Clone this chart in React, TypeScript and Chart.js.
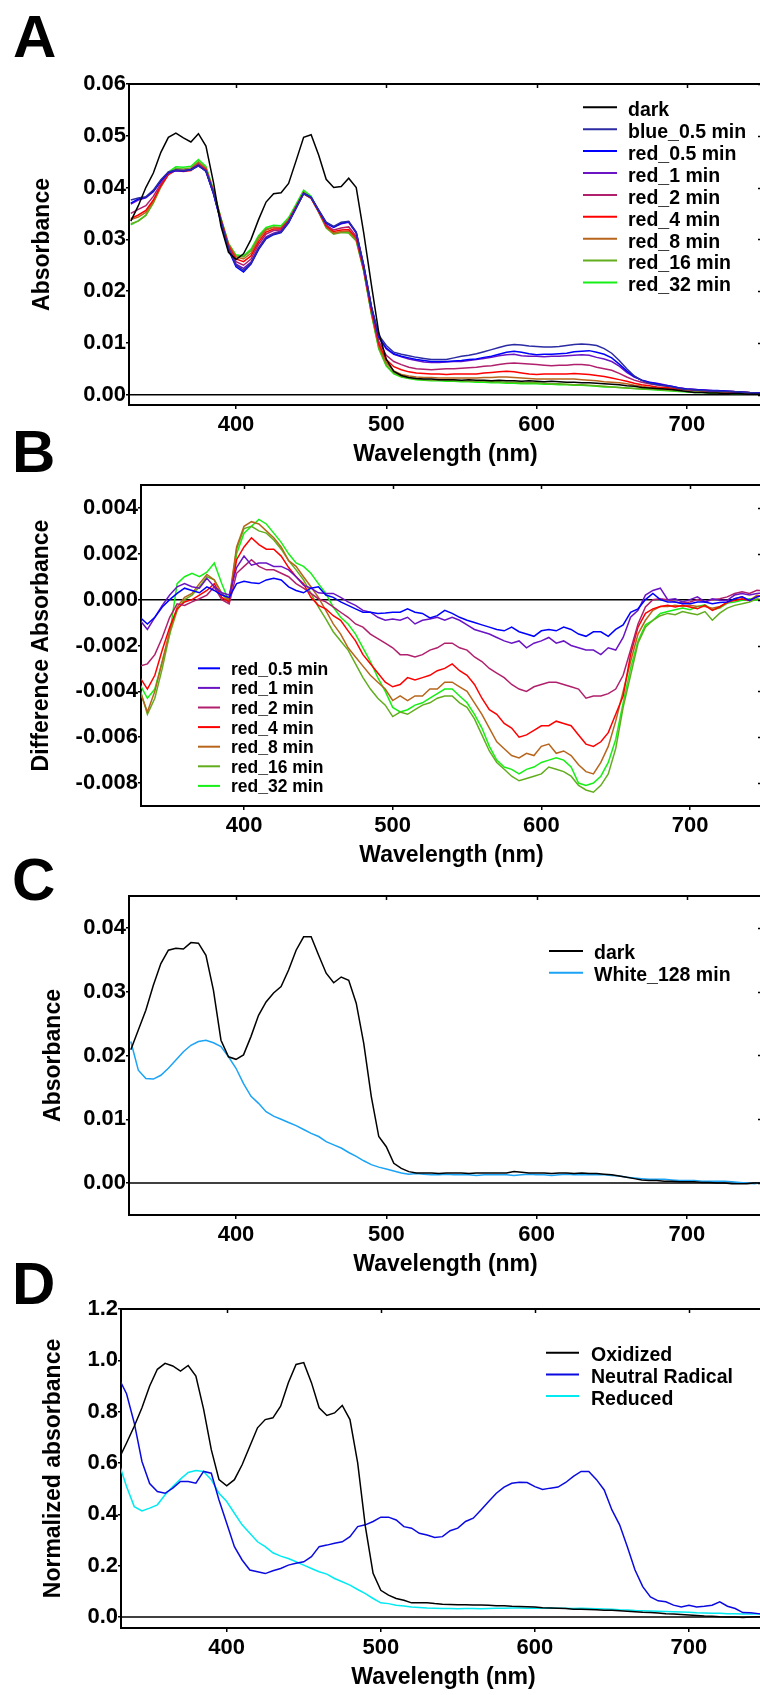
import React, { useEffect, useRef } from "react";
import { Chart, registerables } from "chart.js";

Chart.register(...registerables);
Chart.defaults.font.family = "'Liberation Sans', Arial, Helvetica, sans-serif";

// ---------- wavelength grid (nm) ----------
const WAVELENGTH = [
  330, 335, 340, 345, 350, 355, 360, 365, 370, 375,
  380, 385, 390, 395, 400, 405, 410, 415, 420, 425,
  430, 435, 440, 445, 450, 455, 460, 465, 470, 475,
  480, 485, 490, 495, 500, 505, 510, 515, 520, 525,
  530, 535, 540, 545, 550, 555, 560, 565, 570, 575,
  580, 585, 590, 595, 600, 605, 610, 615, 620, 625,
  630, 635, 640, 645, 650, 655, 660, 665, 670, 675,
  680, 685, 690, 695, 700, 705, 710, 715, 720, 725,
  730, 735, 740, 745, 750,
];

// ---------- tick values ----------
const X_TICKS = [400, 500, 600, 700];
const A_Y_TICKS = [0, 0.01, 0.02, 0.03, 0.04, 0.05, 0.06];
const B_Y_TICKS = [-0.008, -0.006, -0.004, -0.002, 0, 0.002, 0.004];
const C_Y_TICKS = [0, 0.01, 0.02, 0.03, 0.04];
const D_Y_TICKS = [0, 0.2, 0.4, 0.6, 0.8, 1.0, 1.2];

// ---------- Panel A: absorbance ----------
const A_dark = [
  .0335, .0365, .0400, .0428, .0468, .0497, .0505, .0496, .0488, .0504,
  .0480, .0410, .0325, .0275, .0261, .0272, .0300, .0338, .0372, .0388,
  .0390, .0408, .0452, .0497, .0502, .0463, .0416, .0400, .0402, .0418,
  .0400, .0312, .0214, .0120, .0068, .0045, .0037, .0033, .0031, .0030,
  .0030, .0029, .0029, .0029, .0028, .0029, .0028, .0028, .0027, .0028,
  .0027, .0027, .0026, .0027, .0026, .0025, .0026, .0025, .0024, .0024,
  .0023, .0023, .0022, .0021, .0020, .0019, .0017, .0016, .0014, .0013,
  .0012, .0011, .0010, .0008, .0006, .0004, .0004, .0003, .0003, .0002,
  .0002, .0002, .0001, .0001, .0001,
];
const A_blue05 = [
  .0376, .0380, .0382, .0395, .0415, .0430, .0434, .0433, .0434, .0442,
  .0432, .0390, .0335, .0282, .0250, .0240, .0254, .0282, .0303, .0310,
  .0314, .0333, .0360, .0388, .0380, .0357, .0333, .0325, .0333, .0335,
  .0314, .0250, .0172, .0115, .0095, .0082, .0078, .0075, .0072, .0070,
  .0068, .0068, .0068, .0071, .0074, .0076, .0079, .0083, .0087, .0091,
  .0095, .0097, .0096, .0094, .0093, .0092, .0092, .0093, .0095, .0097,
  .0098, .0097, .0095, .0089, .0080, .0066, .0050, .0036, .0027, .0022,
  .0019, .0017, .0015, .0012, .0010, .0009, .0008, .0007, .0007, .0006,
  .0006, .0005, .0004, .0003, .0002,
];
const A_red05 = [
  .0370, .0378, .0381, .0393, .0413, .0429, .0433, .0432, .0435, .0443,
  .0431, .0388, .0333, .0280, .0247, .0237, .0252, .0280, .0301, .0309,
  .0313, .0332, .0360, .0389, .0381, .0356, .0331, .0323, .0331, .0334,
  .0313, .0249, .0171, .0112, .0090, .0079, .0074, .0071, .0068, .0066,
  .0064, .0064, .0064, .0065, .0066, .0068, .0069, .0072, .0074, .0078,
  .0082, .0084, .0082, .0079, .0077, .0078, .0078, .0079, .0080, .0083,
  .0084, .0085, .0082, .0078, .0071, .0059, .0046, .0035, .0028, .0024,
  .0021, .0018, .0016, .0013, .0011, .0010, .0009, .0008, .0008, .0007,
  .0006, .0005, .0004, .0003, .0003,
];
const A_red1 = [
  .0368, .0376, .0380, .0392, .0412, .0428, .0433, .0432, .0434, .0442,
  .0432, .0389, .0334, .0282, .0252, .0244, .0256, .0284, .0305, .0312,
  .0316, .0334, .0361, .0389, .0381, .0356, .0332, .0324, .0330, .0333,
  .0312, .0248, .0170, .0110, .0088, .0078, .0073, .0069, .0066, .0063,
  .0062, .0062, .0063, .0064, .0064, .0066, .0068, .0070, .0072, .0075,
  .0077, .0078, .0075, .0074, .0074, .0073, .0074, .0074, .0075, .0076,
  .0077, .0076, .0072, .0069, .0064, .0055, .0043, .0034, .0028, .0024,
  .0022, .0019, .0016, .0013, .0011, .0010, .0009, .0008, .0007, .0007,
  .0006, .0005, .0004, .0003, .0003,
];
const A_red2 = [
  .0350, .0358, .0365, .0383, .0408, .0427, .0434, .0433, .0435, .0445,
  .0433, .0390, .0336, .0285, .0257, .0250, .0262, .0290, .0310, .0317,
  .0318, .0335, .0362, .0389, .0380, .0355, .0328, .0318, .0322, .0324,
  .0306, .0244, .0166, .0103, .0076, .0064, .0058, .0053, .0050, .0049,
  .0048, .0049, .0050, .0050, .0051, .0052, .0053, .0055, .0056, .0058,
  .0060, .0061, .0060, .0059, .0058, .0057, .0056, .0057, .0057, .0058,
  .0058, .0057, .0053, .0050, .0047, .0041, .0034, .0028, .0024, .0021,
  .0019, .0017, .0015, .0013, .0011, .0010, .0009, .0008, .0007, .0006,
  .0006, .0005, .0004, .0003, .0003,
];
const A_red4 = [
  .0340, .0347, .0356, .0376, .0404, .0425, .0433, .0431, .0433, .0445,
  .0435, .0392, .0338, .0288, .0262, .0257, .0268, .0295, .0314, .0320,
  .0320, .0336, .0362, .0388, .0379, .0354, .0326, .0315, .0318, .0319,
  .0303, .0242, .0163, .0098, .0068, .0054, .0048, .0044, .0042, .0041,
  .0040, .0040, .0039, .0040, .0040, .0040, .0040, .0042, .0043, .0044,
  .0045, .0044, .0042, .0040, .0039, .0040, .0040, .0040, .0040, .0041,
  .0040, .0039, .0037, .0035, .0032, .0029, .0026, .0022, .0019, .0017,
  .0015, .0014, .0013, .0011, .0010, .0009, .0008, .0007, .0006, .0006,
  .0005, .0004, .0004, .0003, .0002,
];
const A_red8 = [
  .0338, .0343, .0352, .0373, .0402, .0425, .0434, .0433, .0436, .0448,
  .0437, .0393, .0339, .0290, .0266, .0262, .0273, .0300, .0318, .0323,
  .0322, .0337, .0363, .0390, .0379, .0353, .0324, .0312, .0315, .0316,
  .0300, .0240, .0160, .0094, .0062, .0046, .0039, .0036, .0034, .0033,
  .0033, .0032, .0032, .0032, .0032, .0032, .0032, .0033, .0033, .0034,
  .0034, .0033, .0032, .0031, .0030, .0030, .0030, .0030, .0030, .0030,
  .0029, .0028, .0027, .0025, .0024, .0023, .0021, .0018, .0016, .0014,
  .0013, .0012, .0011, .0010, .0009, .0008, .0007, .0006, .0006, .0005,
  .0005, .0004, .0004, .0003, .0002,
];
const A_red16 = [
  .0330, .0335, .0346, .0370, .0401, .0427, .0437, .0436, .0438, .0450,
  .0438, .0394, .0340, .0291, .0268, .0266, .0278, .0304, .0320, .0324,
  .0323, .0339, .0365, .0392, .0380, .0352, .0322, .0310, .0313, .0312,
  .0297, .0238, .0158, .0090, .0057, .0042, .0035, .0032, .0030, .0029,
  .0028, .0028, .0028, .0027, .0027, .0026, .0026, .0026, .0025, .0025,
  .0024, .0024, .0023, .0023, .0023, .0022, .0021, .0021, .0020, .0019,
  .0019, .0018, .0017, .0016, .0015, .0014, .0013, .0012, .0011, .0011,
  .0010, .0009, .0008, .0007, .0006, .0005, .0005, .0004, .0004, .0004,
  .0003, .0003, .0002, .0002, .0002,
];
const A_red32 = [
  .0328, .0336, .0347, .0372, .0404, .0430, .0440, .0439, .0441, .0454,
  .0441, .0396, .0341, .0292, .0270, .0268, .0281, .0307, .0323, .0327,
  .0326, .0342, .0368, .0395, .0383, .0354, .0324, .0312, .0314, .0313,
  .0298, .0239, .0157, .0088, .0055, .0040, .0034, .0031, .0029, .0028,
  .0027, .0027, .0026, .0026, .0025, .0025, .0024, .0024, .0023, .0023,
  .0022, .0022, .0021, .0021, .0021, .0020, .0020, .0019, .0019, .0018,
  .0018, .0017, .0016, .0015, .0015, .0014, .0013, .0012, .0011, .0010,
  .0009, .0008, .0007, .0006, .0005, .0004, .0004, .0003, .0003, .0003,
  .0002, .0002, .0002, .0001, .0001,
];

// ---------- Panel B: difference absorbance ----------
const B_red05 = [
  -.00077, -.00106, -.00077, -.00032, .00000, .00027, .00050, .00040, .00030, .00056,
  .00040, .00020, .00010, .00070, .00080, .00074, .00070, .00086, .00093, .00086,
  .00056, .00040, .00030, .00050, .00056, .00020, .00010, -.00010, -.00025, -.00040,
  -.00055, -.00055, -.00060, -.00058, -.00055, -.00055, -.00040, -.00055, -.00060, -.00080,
  -.00070, -.00047, -.00060, -.00077, -.00090, -.00100, -.00110, -.00120, -.00130, -.00136,
  -.00120, -.00140, -.00150, -.00160, -.00136, -.00130, -.00136, -.00120, -.00130, -.00150,
  -.00160, -.00140, -.00140, -.00160, -.00130, -.00110, -.00055, -.00040, .00000, .00027,
  .00000, -.00010, -.00010, -.00018, -.00018, -.00010, -.00010, -.00018, -.00012, -.00010,
  .00004, .00012, -.00003, .00012, .00019,
];
const B_red1 = [
  -.00090, -.00130, -.00077, -.00025, .00020, .00056, .00070, .00056, .00050, .00093,
  .00056, .00030, .00020, .00140, .00190, .00150, .00160, .00160, .00145, .00145,
  .00130, .00100, .00063, .00050, .00030, .00027, .00027, .00010, -.00010, -.00025,
  -.00047, -.00055, -.00077, -.00090, -.00084, -.00090, -.00077, -.00106, -.00090, -.00084,
  -.00077, -.00090, -.00077, -.00090, -.00110, -.00130, -.00140, -.00150, -.00165, -.00180,
  -.00190, -.00180, -.00210, -.00190, -.00180, -.00165, -.00190, -.00180, -.00200, -.00210,
  -.00220, -.00220, -.00240, -.00210, -.00220, -.00165, -.00077, -.00047, .00020, .00040,
  .00050, .00000, .00004, -.00010, .00000, .00012, -.00010, .00004, -.00003, -.00003,
  .00020, .00027, .00020, .00027, .00030,
];
const B_red2 = [
  -.00290, -.00280, -.00240, -.00165, -.00077, -.00018, -.00025, -.00010, .00004, .00020,
  .00056, .00000, -.00018, .00115, .00145, .00174, .00145, .00130, .00130, .00115,
  .00100, .00070, .00050, .00027, .00004, -.00010, -.00032, -.00055, -.00077, -.00106,
  -.00120, -.00150, -.00170, -.00190, -.00210, -.00240, -.00240, -.00250, -.00240, -.00220,
  -.00210, -.00190, -.00190, -.00210, -.00220, -.00250, -.00270, -.00300, -.00320, -.00340,
  -.00370, -.00390, -.00400, -.00380, -.00370, -.00360, -.00360, -.00370, -.00380, -.00390,
  -.00430, -.00420, -.00420, -.00410, -.00390, -.00330, -.00220, -.00106, -.00032, .00000,
  .00004, .00000, -.00010, -.00015, -.00010, .00000, -.00010, .00000, .00004, .00012,
  .00027, .00034, .00027, .00041, .00038,
];
const B_red4 = [
  -.00340, -.00390, -.00330, -.00220, -.00120, -.00040, -.00010, .00000, .00020, .00040,
  .00070, .00010, -.00010, .00174, .00230, .00270, .00240, .00220, .00220, .00190,
  .00140, .00100, .00070, .00010, -.00025, -.00040, -.00070, -.00090, -.00136, -.00180,
  -.00240, -.00280, -.00320, -.00360, -.00380, -.00370, -.00340, -.00350, -.00340, -.00330,
  -.00310, -.00300, -.00280, -.00310, -.00330, -.00370, -.00430, -.00480, -.00500, -.00540,
  -.00560, -.00600, -.00590, -.00570, -.00550, -.00550, -.00530, -.00540, -.00550, -.00590,
  -.00630, -.00640, -.00620, -.00580, -.00500, -.00420, -.00240, -.00120, -.00060, -.00040,
  -.00030, -.00025, -.00032, -.00025, -.00032, -.00040, -.00025, -.00047, -.00032, -.00010,
  -.00004, .00004, -.00004, .00012, .00019,
];
const B_red8 = [
  -.00400, -.00490, -.00400, -.00270, -.00136, -.00032, .00010, .00027, .00070, .00110,
  .00086, .00027, .00000, .00230, .00320, .00340, .00330, .00300, .00270, .00230,
  .00170, .00145, .00100, .00056, .00010, -.00047, -.00106, -.00150, -.00210, -.00250,
  -.00290, -.00330, -.00360, -.00390, -.00440, -.00420, -.00440, -.00420, -.00420, -.00390,
  -.00390, -.00360, -.00360, -.00380, -.00400, -.00450, -.00500, -.00560, -.00620, -.00650,
  -.00680, -.00690, -.00670, -.00680, -.00640, -.00630, -.00670, -.00660, -.00680, -.00720,
  -.00750, -.00760, -.00710, -.00640, -.00530, -.00400, -.00270, -.00150, -.00090, -.00047,
  -.00030, -.00030, -.00025, -.00030, -.00025, -.00030, -.00030, -.00037, -.00030, -.00015,
  .00004, .00012, -.00003, .00019, .00012,
];
const B_red16 = [
  -.00390, -.00500, -.00430, -.00300, -.00150, -.00047, .00000, .00020, .00056, .00100,
  .00086, .00027, -.00010, .00220, .00310, .00320, .00300, .00290, .00260, .00220,
  .00170, .00130, .00086, .00027, -.00032, -.00084, -.00140, -.00180, -.00220, -.00280,
  -.00340, -.00390, -.00430, -.00460, -.00510, -.00490, -.00500, -.00480, -.00460, -.00450,
  -.00430, -.00420, -.00420, -.00450, -.00470, -.00520, -.00590, -.00660, -.00710, -.00740,
  -.00770, -.00790, -.00780, -.00770, -.00760, -.00730, -.00740, -.00750, -.00770, -.00810,
  -.00830, -.00840, -.00810, -.00760, -.00650, -.00470, -.00330, -.00190, -.00120, -.00090,
  -.00070, -.00060, -.00066, -.00052, -.00059, -.00066, -.00052, -.00090, -.00059, -.00037,
  -.00025, -.00018, -.00010, .00004, -.00003,
];
const B_red32 = [
  -.00370, -.00430, -.00390, -.00270, -.00150, .00070, .00100, .00115, .00100, .00120,
  .00160, .00070, -.00010, .00200, .00290, .00320, .00350, .00330, .00290, .00250,
  .00200, .00160, .00145, .00115, .00070, .00027, -.00032, -.00077, -.00106, -.00150,
  -.00210, -.00270, -.00340, -.00400, -.00470, -.00490, -.00480, -.00460, -.00450, -.00430,
  -.00410, -.00390, -.00390, -.00420, -.00450, -.00500, -.00560, -.00640, -.00700, -.00730,
  -.00740, -.00760, -.00740, -.00730, -.00710, -.00700, -.00690, -.00700, -.00730, -.00800,
  -.00810, -.00800, -.00770, -.00710, -.00610, -.00450, -.00300, -.00180, -.00110, -.00090,
  -.00060, -.00052, -.00044, -.00037, -.00044, -.00030, -.00022, -.00044, -.00037, -.00015,
  -.00010, -.00003, .00004, -.00003, -.00003,
];

// ---------- Panel C: dark vs white light ----------
const C_dark = [
  .0209, .0240, .0271, .0310, .0344, .0365, .0368, .0367, .0377, .0376,
  .0357, .0302, .0224, .0198, .0194, .0201, .0230, .0263, .0284, .0298,
  .0308, .0334, .0365, .0386, .0386, .0357, .0329, .0314, .0323, .0318,
  .0282, .0219, .0136, .0073, .0057, .0031, .0023, .0018, .0016, .0016,
  .0016, .0015, .0016, .0016, .0016, .0015, .0016, .0016, .0016, .0016,
  .0016, .0018, .0017, .0016, .0016, .0016, .0015, .0016, .0016, .0015,
  .0016, .0015, .0015, .0014, .0013, .0011, .0009, .0007, .0005, .0004,
  .0004, .0003, .0003, .0002, .0002, .0002, .0001, .0001, .0000, .0000,
  -.0001, -.0001, -.0001, .0000, .0000,
];
const C_white128 = [
  .0222, .0177, .0164, .0163, .0169, .0180, .0193, .0206, .0216, .0222,
  .0224, .0220, .0214, .0198, .0180, .0156, .0136, .0125, .0112, .0105,
  .0100, .0095, .0090, .0084, .0078, .0073, .0065, .0060, .0055, .0048,
  .0042, .0035, .0029, .0025, .0022, .0019, .0016, .0014, .0015, .0014,
  .0013, .0013, .0014, .0013, .0013, .0013, .0012, .0013, .0013, .0013,
  .0013, .0012, .0013, .0014, .0013, .0013, .0012, .0013, .0014, .0013,
  .0013, .0013, .0013, .0013, .0012, .0011, .0009, .0008, .0007, .0006,
  .0006, .0006, .0005, .0004, .0004, .0004, .0003, .0003, .0003, .0003,
  .0002, .0001, .0000, -.0001, .0001,
];

// ---------- Panel D: normalized redox-state spectra ----------
const D_oxidized = [
  .615, .678, .743, .815, .900, .965, .988, .978, .958, .980,
  .939, .810, .652, .535, .511, .535, .593, .665, .737, .769,
  .776, .821, .913, .984, .991, .913, .815, .785, .795, .824,
  .769, .600, .352, .170, .104, .085, .072, .065, .055, .055,
  .055, .052, .050, .049, .048, .048, .047, .047, .046, .044,
  .044, .042, .041, .040, .039, .036, .035, .034, .033, .030,
  .030, .029, .028, .026, .026, .024, .022, .020, .018, .017,
  .015, .013, .012, .010, .008, .006, .004, .003, .001, .000,
  .000, -.002, .000, .001, .002,
];
const D_neutral = [
  .930, .870, .756, .606, .520, .489, .482, .502, .528, .528,
  .521, .567, .560, .456, .365, .274, .222, .183, .176, .169,
  .180, .189, .202, .209, .215, .235, .274, .280, .287, .293,
  .313, .352, .359, .372, .389, .389, .378, .352, .346, .326,
  .319, .310, .313, .336, .346, .372, .385, .417, .450, .482,
  .506, .521, .525, .524, .508, .497, .502, .506, .524, .548,
  .567, .567, .535, .495, .417, .359, .274, .183, .118, .078,
  .063, .059, .046, .039, .046, .039, .042, .046, .059, .042,
  .033, .017, .016, .013, .010,
];
const D_reduced = [
  .600, .508, .430, .413, .424, .437, .476, .508, .537, .563,
  .571, .567, .535, .482, .450, .404, .359, .326, .293, .274,
  .250, .237, .228, .215, .202, .189, .176, .167, .150, .137,
  .124, .107, .091, .072, .055, .052, .046, .043, .039, .037,
  .035, .034, .033, .033, .032, .033, .033, .032, .033, .034,
  .034, .035, .035, .034, .035, .034, .035, .034, .034, .033,
  .034, .033, .032, .031, .030, .028, .027, .025, .024, .023,
  .022, .021, .020, .019, .018, .016, .015, .014, .014, .013,
  .013, .012, .012, .012, .011,
];

// ---------- series definitions ----------
const SERIES_A = [
  { label: "dark", values: A_dark, color: "#000000" },
  { label: "blue_0.5 min", values: A_blue05, color: "#2b2ba3" },
  { label: "red_0.5 min", values: A_red05, color: "#0000ff" },
  { label: "red_1 min", values: A_red1, color: "#6a14c4" },
  { label: "red_2 min", values: A_red2, color: "#b0206c" },
  { label: "red_4 min", values: A_red4, color: "#ff0000" },
  { label: "red_8 min", values: A_red8, color: "#b8651c" },
  { label: "red_16 min", values: A_red16, color: "#62ad1e" },
  { label: "red_32 min", values: A_red32, color: "#16f016" },
];
const SERIES_B = [
  { label: "red_0.5 min", values: B_red05, color: "#0000ff" },
  { label: "red_1 min", values: B_red1, color: "#6a14c4" },
  { label: "red_2 min", values: B_red2, color: "#b0206c" },
  { label: "red_4 min", values: B_red4, color: "#ff0000" },
  { label: "red_8 min", values: B_red8, color: "#b8651c" },
  { label: "red_16 min", values: B_red16, color: "#62ad1e" },
  { label: "red_32 min", values: B_red32, color: "#16f016" },
];
const SERIES_C = [
  { label: "dark", values: C_dark, color: "#000000" },
  { label: "White_128 min", values: C_white128, color: "#1ba3f5" },
];
const SERIES_D = [
  { label: "Oxidized", values: D_oxidized, color: "#000000" },
  { label: "Neutral Radical", values: D_neutral, color: "#0a0ae0" },
  { label: "Reduced", values: D_reduced, color: "#00eaf2" },
];

// ---------- layout (page pixels) ----------
const PANELS = [
  {
    letter: "A", letterX: 13, letterBase: 58, series: SERIES_A, yTicks: A_Y_TICKS,
    canvasTop: 60, canvasH: 410, canvasW: 770,
    plotTop: 84, plotBottom: 405, plotLeft: 129, plotRight: 762,
    xMin: 328.8, xMax: 750, yMin: -0.002, yMax: 0.06, dec: 2,
    yTitle: "Absorbance", yTitleX: 42.5,
    legend: { x: 583, len: 34, textX: 628, y: 107.3, rowH: 21.9, size: 19.5, base: 8.8 },
  },
  {
    letter: "B", letterX: 12, letterBase: 473, series: SERIES_B, yTicks: B_Y_TICKS,
    canvasTop: 470, canvasH: 410, canvasW: 770,
    plotTop: 485, plotBottom: 806, plotLeft: 141, plotRight: 762,
    xMin: 330.7, xMax: 748.4, yMin: -0.009, yMax: 0.005, dec: 3,
    yTitle: "Difference Absorbance", yTitleX: 42,
    legend: { x: 198, len: 22, textX: 231, y: 668.3, rowH: 19.6, size: 17.5, base: 6.5 },
  },
  {
    letter: "C", letterX: 12, letterBase: 901, series: SERIES_C, yTicks: C_Y_TICKS,
    canvasTop: 880, canvasH: 400, canvasW: 770,
    plotTop: 896, plotBottom: 1215, plotLeft: 129, plotRight: 762,
    xMin: 328.8, xMax: 750, yMin: -0.005, yMax: 0.045, dec: 2,
    yTitle: "Absorbance", yTitleX: 54,
    legend: { x: 549, len: 34, textX: 594, y: 951, rowH: 21.7, size: 19.5, base: 8.4 },
  },
  {
    letter: "D", letterX: 12, letterBase: 1305, series: SERIES_D, yTicks: D_Y_TICKS,
    canvasTop: 1280, canvasH: 415, canvasW: 776,
    plotTop: 1309, plotBottom: 1628, plotLeft: 121, plotRight: 766,
    xMin: 331.4, xMax: 750, yMin: -0.043, yMax: 1.2, dec: 1,
    yTitle: "Normalized absorbance", yTitleX: 53.5,
    legend: { x: 546, len: 33, textX: 591, y: 1352.7, rowH: 21.7, size: 19.5, base: 8.4 },
  },
];

const FONT = "'Liberation Sans', Arial, Helvetica, sans-serif";

const framePlugin = {
  id: "frame",
  beforeDatasetsDraw(chart: any) {
    const { ctx, chartArea: a, scales } = chart;
    const y0 = scales.y.getPixelForValue(0);
    ctx.save();
    ctx.strokeStyle = "#000";
    ctx.lineWidth = 1.5;
    ctx.beginPath();
    ctx.moveTo(a.left, y0);
    ctx.lineTo(a.right, y0);
    ctx.stroke();
    ctx.restore();
  },
  afterDraw(chart: any, _args: any, opts: any) {
    const { ctx, chartArea: a, scales } = chart;
    const xs = scales.x;
    const ys = scales.y;
    ctx.save();
    ctx.strokeStyle = "#000";
    ctx.lineWidth = 2;
    ctx.beginPath();
    ctx.moveTo(a.left - 1, a.top);
    ctx.lineTo(a.right, a.top);
    ctx.lineTo(a.right, a.bottom);
    ctx.stroke();
    ctx.lineWidth = 1.5;
    ctx.beginPath();
    xs.ticks.forEach((t: any) => {
      const px = Math.round(xs.getPixelForValue(t.value)) + 0.5;
      ctx.moveTo(px, a.top);
      ctx.lineTo(px, a.top + 4);
    });
    ys.ticks.forEach((t: any) => {
      const py = Math.round(ys.getPixelForValue(t.value)) + 0.5;
      ctx.moveTo(a.right, py);
      ctx.lineTo(a.right - 4, py);
    });
    ctx.stroke();

    const lg = opts.legend;
    if (lg) {
      ctx.font = `bold ${lg.size}px ${FONT}`;
      ctx.textAlign = "left";
      ctx.textBaseline = "alphabetic";
      chart.data.datasets.forEach((ds: any, i: number) => {
        const yy = lg.y + i * lg.rowH;
        ctx.strokeStyle = ds.borderColor;
        ctx.lineWidth = 2;
        ctx.beginPath();
        ctx.moveTo(lg.x, yy);
        ctx.lineTo(lg.x + lg.len, yy);
        ctx.stroke();
        ctx.fillStyle = "#000";
        ctx.fillText(ds.label, lg.textX, yy + lg.base);
      });
    }
    ctx.restore();
  },
};

function buildConfig(p: any) {
  const canvasBottom = p.canvasTop + p.canvasH;
  const xTitleMid = p.plotBottom + 49.7;
  const datasets = p.series.map((s: any) => ({
    label: s.label,
    data: WAVELENGTH.map((w, i) => ({ x: w, y: s.values[i] })),
    borderColor: s.color,
    backgroundColor: s.color,
    borderWidth: 1.5,
    pointRadius: 0,
    tension: 0,
    fill: false,
  }));
  return {
    type: "line",
    data: { datasets },
    options: {
      animation: false,
      responsive: false,
      maintainAspectRatio: false,
      events: [],
      layout: {
        autoPadding: false,
        padding: { top: p.plotTop - p.canvasTop, right: p.canvasW - p.plotRight, bottom: 0, left: 0 },
      },
      plugins: {
        legend: { display: false },
        tooltip: { enabled: false },
        frame: {
          legend: {
            ...p.legend,
            y: p.legend.y - p.canvasTop,
          },
        },
      },
      scales: {
        x: {
          type: "linear",
          min: p.xMin,
          max: p.xMax,
          afterBuildTicks: (s: any) => {
            s.ticks = X_TICKS.map((v) => ({ value: v }));
          },
          ticks: {
            color: "#000",
            font: { size: 22, weight: "bold", family: FONT },
            padding: 2.4,
            maxRotation: 0,
            autoSkip: false,
          },
          grid: { drawOnChartArea: false, drawTicks: true, tickLength: 4, color: "#000", lineWidth: 1.5 },
          border: { display: true, color: "#000", width: 2 },
          title: {
            display: true,
            text: "Wavelength (nm)",
            color: "#000",
            font: { size: 23, weight: "bold", family: FONT, lineHeight: 1 },
            padding: { top: 0, bottom: canvasBottom - xTitleMid - 11.5 },
          },
          afterFit: (s: any) => {
            s.height = canvasBottom - p.plotBottom;
          },
        },
        y: {
          type: "linear",
          min: p.yMin,
          max: p.yMax,
          afterBuildTicks: (s: any) => {
            s.ticks = p.yTicks.map((v: number) => ({ value: v }));
          },
          ticks: {
            color: "#000",
            font: { size: 22, weight: "bold", family: FONT },
            padding: 0,
            autoSkip: false,
            callback: (v: any) => Number(v).toFixed(p.dec),
          },
          grid: { drawOnChartArea: false, drawTicks: true, tickLength: 3, color: "#000", lineWidth: 1.5 },
          border: { display: true, color: "#000", width: 2 },
          title: {
            display: true,
            text: p.yTitle,
            color: "#000",
            font: { size: 23, weight: "bold", family: FONT, lineHeight: 1 },
            padding: { top: p.yTitleX - 11.5, bottom: 0 },
          },
          afterFit: (s: any) => {
            s.width = p.plotLeft;
          },
        },
      },
    },
    plugins: [framePlugin],
  };
}

function Panel({ p }: { p: any }) {
  const ref = useRef<HTMLCanvasElement>(null);
  useEffect(() => {
    const chart = new Chart(ref.current as HTMLCanvasElement, buildConfig(p) as any);
    return () => chart.destroy();
  }, [p]);
  return (
    <canvas
      ref={ref}
      width={p.canvasW}
      height={p.canvasH}
      style={{ position: "absolute", left: 0, top: p.canvasTop, width: p.canvasW, height: p.canvasH }}
    />
  );
}

export default function App() {
  return (
    <div
      style={{
        position: "absolute",
        left: 0,
        top: 0,
        width: 760,
        height: 1695,
        overflow: "hidden",
        background: "#fff",
      }}
    >
      {PANELS.map((p) => (
        <Panel key={p.letter} p={p} />
      ))}
      {PANELS.map((p) => (
        <div
          key={"L" + p.letter}
          style={{
            position: "absolute",
            left: p.letterX,
            top: p.letterBase - 50.8,
            fontFamily: FONT,
            fontWeight: "bold",
            fontSize: 60,
            lineHeight: "60px",
            color: "#000",
          }}
        >
          {p.letter}
        </div>
      ))}
    </div>
  );
}
